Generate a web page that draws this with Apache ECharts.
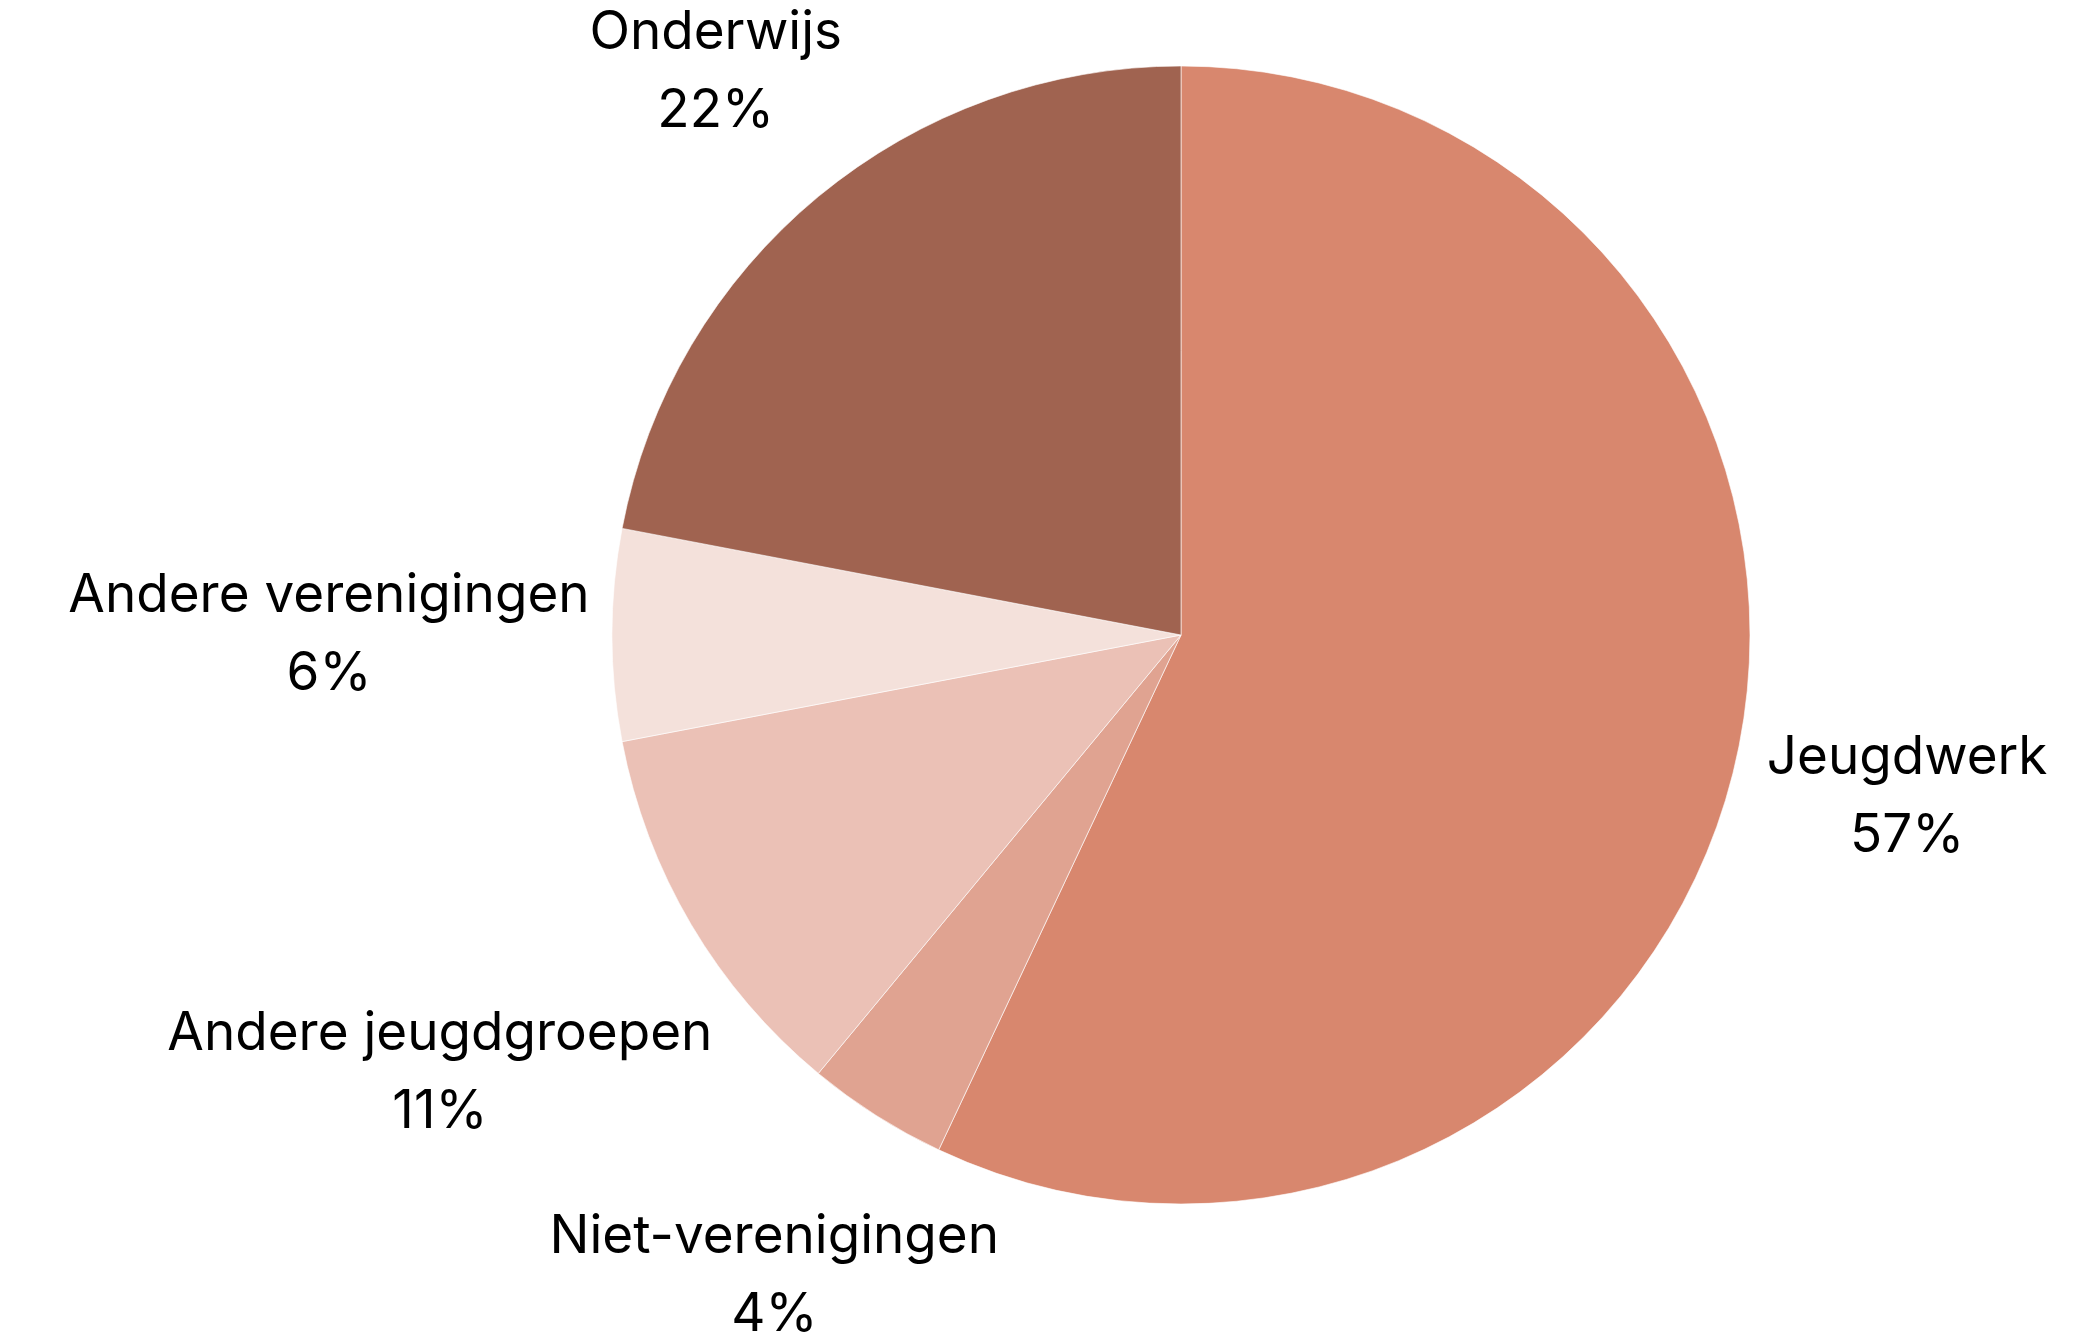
<!DOCTYPE html>
<html>
<head>
<meta charset="utf-8">
<script src="https://cdn.jsdelivr.net/npm/echarts@6/dist/echarts.min.js"></script>
<style>
  html, body { margin: 0; padding: 0; background: #fff; }
  #chart { width: 2074px; height: 1332px; }
</style>
</head>
<body>
<div id="chart"></div>
<script>
// data, clockwise from 12 o'clock
const categories = ['Jeugdwerk', 'Niet-verenigingen', 'Andere jeugdgroepen', 'Andere verenigingen', 'Onderwijs']
const shares = [57, 4, 11, 6, 22]

// palette
const sliceColors = ['#d8876e', '#e0a391', '#ebc1b6', '#f4e1db', '#a06350']

const chart = echarts.init(document.getElementById('chart'))

// put the label box just outside the pie, centred on the slice's middle angle
function placeLabel(params) {
  const data = chart.getModel().getSeriesByIndex(0).getData()
  const lay = data.getItemLayout(params.dataIndex)
  const mid = (lay.startAngle + lay.endAngle) / 2
  const dx = Math.cos(mid)
  const dy = Math.sin(mid)
  const hw = params.labelRect.width / 2
  const hh = params.labelRect.height / 2
  const clear = lay.r + 22
  let d = 0
  for (; d < 2000; d++) {
    const bx = d * dx, by = d * dy
    const nx = Math.max(bx - hw, Math.min(0, bx + hw))
    const ny = Math.max(by - hh, Math.min(0, by + hh))
    if (Math.sqrt(nx * nx + ny * ny) >= clear) break
  }
  return {
    x: lay.cx + d * dx,
    y: lay.cy + d * dy,
    align: 'center',
    verticalAlign: 'middle'
  }
}

const option = {
  animation: false,
  color: sliceColors,
  series: [
    {
      type: 'pie',
      center: [1181, 635],
      radius: 569,
      startAngle: 90,
      clockwise: true,
      avoidLabelOverlap: false,
      itemStyle: {
        borderColor: 'rgba(255,255,255,0.6)',
        borderWidth: 1
      },
      label: {
        show: true,
        position: 'outside',
        formatter: (p) => p.name + '\n' + p.value + '%',
        fontFamily: 'Inter',
        fontSize: 53,
        lineHeight: 78,
        color: '#000',
        align: 'center'
      },
      labelLine: { show: false },
      labelLayout: placeLabel,
      emphasis: { disabled: true },
      data: categories.map((name, i) => ({ name: name, value: shares[i] }))
    }
  ]
}

chart.setOption(option)
</script>
</body>
</html>
